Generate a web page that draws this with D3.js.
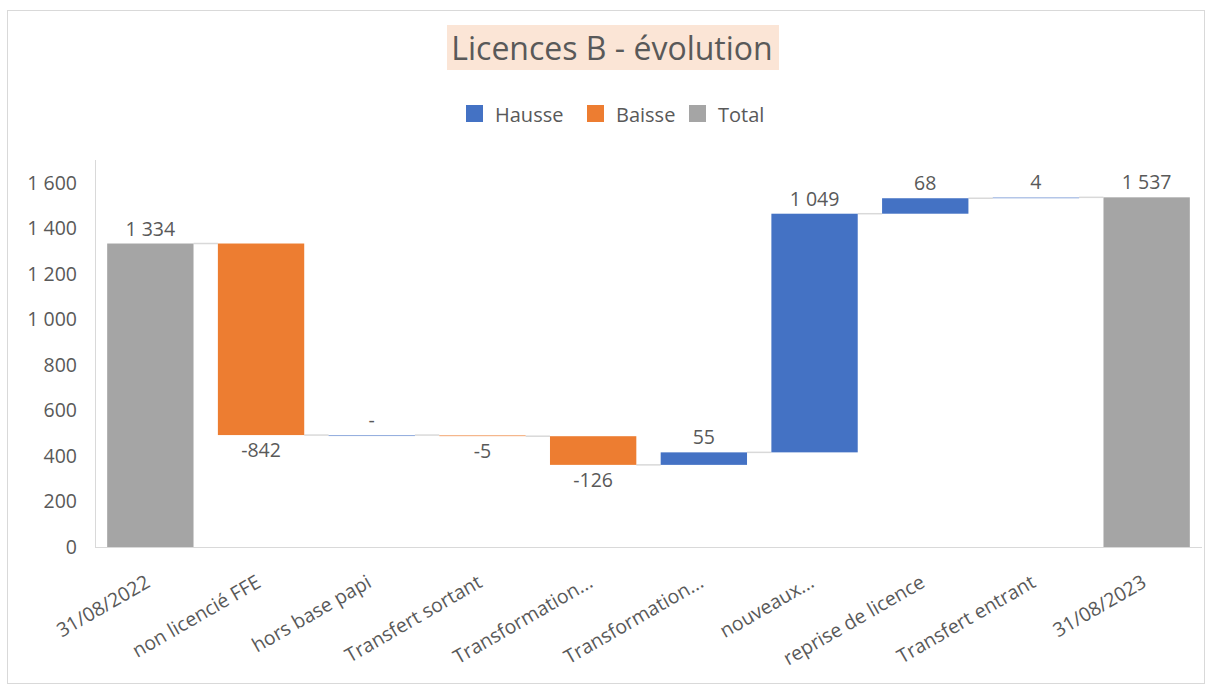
<!DOCTYPE html>
<html>
<head>
<meta charset="utf-8">
<script src="https://cdn.jsdelivr.net/npm/d3@7"></script>
<style>
  body { margin: 0; background: #fff; }
  text { font-family: "Open Sans", sans-serif; fill: #595959; }
</style>
</head>
<body>
<div id="chart"></div>
<script>
const categories = ["31/08/2022", "non licencié FFE", "hors base papi", "Transfert sortant", "Transformation...", "Transformation...", "nouveaux...", "reprise de licence", "Transfert entrant", "31/08/2023"]
const values = [1334, -842, 0, -5, -126, 55, 1049, 68, 4, 1537]
const kinds = ["total", "delta", "delta", "delta", "delta", "delta", "delta", "delta", "delta", "total"]
const yTicks = [0, 200, 400, 600, 800, 1000, 1200, 1400, 1600]
const legendItems = ["Hausse", "Baisse", "Total"]

const width = 1208, height = 686
const plotLeft = 95, plotRight = 1202, plotTop = 183, plotBottom = 547

const colors = { Hausse: "#4472C4", Baisse: "#ED7D31", Total: "#A5A5A5" }
const fr = d3.formatLocale({ decimal: ",", thousands: "\u00a0", grouping: [3], currency: ["", "€"] })
const fmt = fr.format(",d")

// build waterfall steps
let run = 0
const steps = values.map((v, i) => {
  let start, end, kind
  if (kinds[i] === "total") { start = 0; end = v; run = v; kind = "Total" }
  else { start = run; end = run + v; run = end; kind = v >= 0 ? "Hausse" : "Baisse" }
  return { i, v, start, end, kind }
})

const svg = d3.select("#chart").append("svg")
  .attr("width", width).attr("height", height)

// chart border
svg.append("rect").attr("x", 7.5).attr("y", 10.5).attr("width", width - 11).attr("height", height - 13)
  .attr("fill", "none").attr("stroke", "#d9d9d9")

const x = d3.scaleBand().domain(d3.range(categories.length)).range([plotLeft, plotRight]).paddingInner(0.22).paddingOuter(0.11)
const y = d3.scaleLinear().domain([0, 1600]).range([plotBottom, plotTop])

// title
const titleG = svg.append("g")
titleG.append("rect").attr("x", 447).attr("y", 25).attr("width", 332).attr("height", 45).attr("fill", "#FBE5D6")
titleG.append("text").attr("x", 612).attr("y", 60).attr("text-anchor", "middle")
  .style("font-size", "32px").text("Licences B - évolution")

// legend
const legendX = [466, 587, 689]
legendItems.forEach((k, i) => {
  svg.append("rect").attr("x", legendX[i]).attr("y", 105).attr("width", 17).attr("height", 17).attr("fill", colors[k])
  svg.append("text").attr("x", legendX[i] + 29).attr("y", 121.5).style("font-size", "20px").text(k)
})

// y axis
const yAxis = svg.append("g").attr("transform", `translate(${plotLeft},0)`)
  .call(d3.axisLeft(y).tickValues(yTicks).tickSize(0).tickPadding(18).tickFormat(fmt))
yAxis.select(".domain").attr("stroke", "#d9d9d9").attr("d", `M0.5,160V${plotBottom}`)
yAxis.selectAll("text").style("font-size", "19.5px").attr("fill", "#595959")

// x axis
const xAxis = svg.append("g").attr("transform", `translate(0,${plotBottom})`)
  .call(d3.axisBottom(x).tickSize(0).tickFormat(i => categories[i]))
xAxis.select(".domain").attr("stroke", "#d9d9d9").attr("d", `M${plotLeft},0.5H${plotRight}`)
xAxis.selectAll("text").style("font-size", "19.5px").attr("fill", "#595959")
  .attr("text-anchor", "end").attr("y", 0).attr("dy", 0)
  .attr("transform", "translate(1,39) rotate(-30)")

// connectors
steps.slice(0, -1).forEach((s, i) => {
  const lvl = y(s.end)
  svg.append("line").attr("x1", x(i) + x.bandwidth()).attr("x2", x(i + 1))
    .attr("y1", lvl).attr("y2", lvl).attr("stroke", "#d9d9d9").attr("stroke-width", 1.5)
})

// bars
svg.selectAll("rect.bar").data(steps).join("rect").attr("class", "bar")
  .attr("x", d => x(d.i)).attr("width", x.bandwidth())
  .attr("y", d => y(Math.max(d.start, d.end)))
  .attr("height", d => Math.max(1, Math.abs(y(d.start) - y(d.end))))
  .attr("fill", d => colors[d.kind])
  .attr("opacity", d => Math.abs(y(d.start) - y(d.end)) < 2 ? 0.6 : 1)

// data labels
svg.selectAll("text.lbl").data(steps).join("text").attr("class", "lbl")
  .attr("x", d => x(d.i) + x.bandwidth() / 2)
  .attr("y", d => d.v < 0 ? y(Math.min(d.start, d.end)) + 22 : y(Math.max(d.start, d.end)) - 8)
  .attr("text-anchor", "middle").style("font-size", "19.5px")
  .text(d => d.v === 0 ? "-" : fmt(d.v).replace("−", "-"))
</script>
</body>
</html>
